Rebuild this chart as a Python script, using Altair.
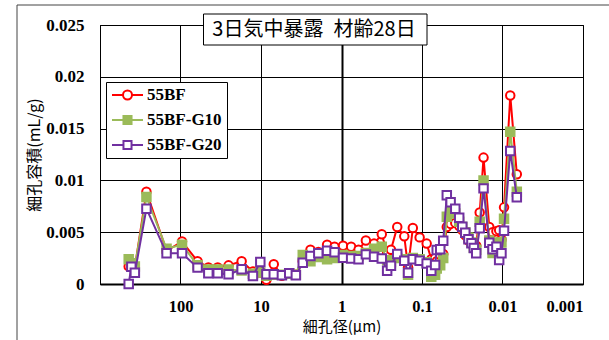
import altair as alt
import pandas as pd

series_names = ["55BF", "55BF-G10", "55BF-G20"]
series_colors = ["#FF0000", "#9BBB59", "#7030A0"]

diameter_um = [440, 408, 369, 265, 149, 95.7, 61.4, 45.1, 34.5, 25.3,
               17.4, 12.6, 10.2, 8.57, 6.94, 5.50, 4.46, 3.69, 3.03, 2.43,
               1.94, 1.51, 1.22, 0.957, 0.759, 0.614, 0.498, 0.394, 0.316, 0.271,
               0.243, 0.203, 0.166, 0.149, 0.130, 0.107, 0.0875, 0.0767, 0.0687, 0.0656,
               0.0594, 0.0545, 0.0492, 0.0441, 0.0386, 0.0345, 0.0316, 0.0290, 0.0265, 0.0243,
               0.0227, 0.0212, 0.0192, 0.0172, 0.0146, 0.0133, 0.0119, 0.0110, 0.0103, 0.00957,
               0.00801, 0.00664]

vol_55bf = [0.0017, 0.0018, 0.0016, 0.0089, 0.0032, 0.0041, 0.0022, 0.0016, 0.0016, 0.0018,
            0.0022, 0.0012, 0.0011, 0.0004, 0.0019, 0.0008, 0.0010, 0.0009, 0.0022, 0.0033,
            0.0031, 0.0038, 0.0036, 0.0037, 0.0036, 0.0033, 0.0042, 0.0039, 0.0048, 0.0030,
            0.0033, 0.0055, 0.0046, 0.0016, 0.0054, 0.0045, 0.0039, 0.0024, 0.0025, 0.0022,
            0.0028, 0.0029, 0.0055, 0.0058, 0.0059, 0.0056, 0.0052, 0.0047, 0.0042, 0.0039,
            0.0036, 0.0037, 0.0069, 0.0122, 0.0055, 0.0050, 0.0051, 0.0052, 0.0043, 0.0074,
            0.0182, 0.0106]

vol_g10 = [0.0024, 0.0020, 0.0017, 0.0084, 0.0034, 0.0038, 0.0018, 0.0014, 0.0014, 0.0014,
           0.0013, 0.0010, 0.0011, 0.0008, 0.0009, 0.0009, 0.0010, 0.0009, 0.0028, 0.0022,
           0.0026, 0.0024, 0.0025, 0.0028, 0.0027, 0.0027, 0.0030, 0.0034, 0.0036, 0.0023,
           0.0021, 0.0025, 0.0024, 0.0009, 0.0025, 0.0024, 0.0021, 0.0007, 0.0009, 0.0015,
           0.0018, 0.0025, 0.0065, 0.0072, 0.0068, 0.0060, 0.0055, 0.0050, 0.0045, 0.0040,
           0.0035, 0.0033, 0.0060, 0.0100, 0.0042, 0.0030, 0.0040, 0.0030, 0.0040, 0.0063,
           0.0147, 0.0089]

vol_g20 = [0.0000, 0.00167, 0.00109, 0.00727, 0.00296, 0.00296, 0.00158, 0.00103, 0.00103, 0.00093,
           0.00142, 0.00077, 0.00212, 0.00093, 0.00093, 0.00084, 0.00103, 0.00084, 0.00206, 0.00270,
           0.00296, 0.00322, 0.00306, 0.00254, 0.00245, 0.00238, 0.00286, 0.00264, 0.00245, 0.00129,
           0.00177, 0.00290, 0.00225, 0.00109, 0.00238, 0.00225, 0.00199, 0.00129, 0.00183, 0.00328,
           0.00335, 0.00418, 0.00856, 0.00788, 0.00727, 0.00640, 0.00553, 0.00495, 0.00431, 0.00393,
           0.00347, 0.00296, 0.00537, 0.00923, 0.00399, 0.00335, 0.00360, 0.00232, 0.00296, 0.00515,
           0.01284, 0.00837]

x_ticks = [1000, 100, 10, 1, 0.1, 0.01, 0.001]
y_ticks = [0, 0.005, 0.01, 0.015, 0.02, 0.025]

title_text = "3日気中暴露\u2002材齢28日"
x_title = "細孔径(μm)"
y_title = "細孔容積(mL/g)"

rows = []
for name, vals in zip(series_names, [vol_55bf, vol_g10, vol_g20]):
    for d, v in zip(diameter_um, vals):
        rows.append({"series": name, "diameter": d, "volume": v})
df = pd.DataFrame(rows)

x_enc = alt.X("diameter:Q",
              scale=alt.Scale(type="log", domain=[0.001, 1000], reverse=True, nice=False),
              axis=alt.Axis(values=x_ticks, format="~g",
                            labelExpr="datum.value >= 999 ? '' : datum.label",
                            title=x_title, labelPadding=14, labelFontSize=16.5,
                            titlePadding=5, titleFontSize=15,
                            domainWidth=2,
                            gridWidth={"condition": {"test": "datum.value == 1", "value": 2}, "value": 1}))
y_enc = alt.Y("volume:Q",
              scale=alt.Scale(domain=[0, 0.025], nice=False),
              axis=alt.Axis(values=y_ticks, format="~g", title=y_title,
                            labelPadding=16, titlePadding=3))

base = alt.Chart(df)

layers = []
marker_shapes = ["circle", "square", "square"]
marker_fill = ["white", "#9BBB59", "white"]
for name, col, shp, fl in zip(series_names, series_colors, marker_shapes, marker_fill):
    sub = base.transform_filter(alt.datum.series == name)
    layers.append(sub.mark_line(color=col, strokeWidth=2).encode(x=x_enc, y=y_enc))
    layers.append(sub.mark_point(shape=shp, size=72, filled=True, fill=fl, stroke=col,
                                 strokeWidth=2, opacity=1).encode(x=x_enc, y=y_enc))

# legend-only layer (draws nothing, builds the legend from explicit scale domains)
legend_paths = [
    "M-1,0L-0.29,0M0.29,0L1,0M-0.29,0A0.29,0.29 0 1,1 0.29,0A0.29,0.29 0 1,1 -0.29,0Z",
    "M-1,0L-0.26,0M0.26,0L1,0M-0.26,-0.26L0.26,-0.26L0.26,0.26L-0.26,0.26Z",
    "M-1,0L-0.26,0M0.26,0L1,0M-0.26,-0.26L0.26,-0.26L0.26,0.26L-0.26,0.26Z",
]
leg = alt.Legend(title=None)
legend_layer = base.transform_filter("false").mark_point(filled=True, opacity=1).encode(
    x=x_enc, y=y_enc,
    shape=alt.Shape("series:N", scale=alt.Scale(domain=series_names, range=legend_paths), legend=leg),
    stroke=alt.Stroke("series:N", scale=alt.Scale(domain=series_names, range=series_colors), legend=leg),
    fill=alt.Fill("series:N", scale=alt.Scale(domain=series_names, range=marker_fill), legend=leg),
)

one = alt.Data(values=[{}])
title_box = alt.Chart(one).mark_rect(fill="white", stroke="black", strokeWidth=1).encode(
    x=alt.value(103.5), x2=alt.value(327), y=alt.value(-11), y2=alt.value(20))
title_mark = alt.Chart(one).mark_text(font="Noto Sans CJK JP", fontSize=20, color="black",
                                      baseline="middle", align="center").encode(
    x=alt.value(214), y=alt.value(5), text=alt.value(title_text))
frame_left = alt.Chart(one).mark_rule(color="#444444", strokeWidth=1).encode(
    x=alt.value(-83), y=alt.value(-20), y2=alt.value(320))
frame_top = alt.Chart(one).mark_rule(color="#444444", strokeWidth=1).encode(
    x=alt.value(-83), x2=alt.value(520), y=alt.value(-20))

chart = alt.layer(*layers, legend_layer, title_box, title_mark, frame_left, frame_top).properties(
    width=483, height=259, autosize="none",
    padding={"left": 100, "top": 25, "right": 26, "bottom": 56},
    background="white",
).configure_view(
    stroke="black", strokeWidth=1
).configure_axis(
    labelFont="Liberation Serif", labelFontWeight="bold", labelFontSize=17, labelColor="black",
    titleFont="Noto Sans CJK JP", titleFontWeight="normal", titleFontSize=16, titleColor="black",
    ticks=False, domainColor="black", gridColor="black", gridOpacity=1, gridWidth=1,
).configure_legend(
    orient="none", legendX=6, legendY=57,
    fillColor="white", strokeColor="black", padding=5, cornerRadius=0,
    symbolSize=961, symbolStrokeWidth=2, clipHeight=16, rowPadding=8,
    labelFont="Liberation Serif", labelFontWeight="bold", labelFontSize=17, labelColor="black",
    labelOffset=3,
)

chart.save("out.html", embed_options={"renderer": "svg", "actions": False})
